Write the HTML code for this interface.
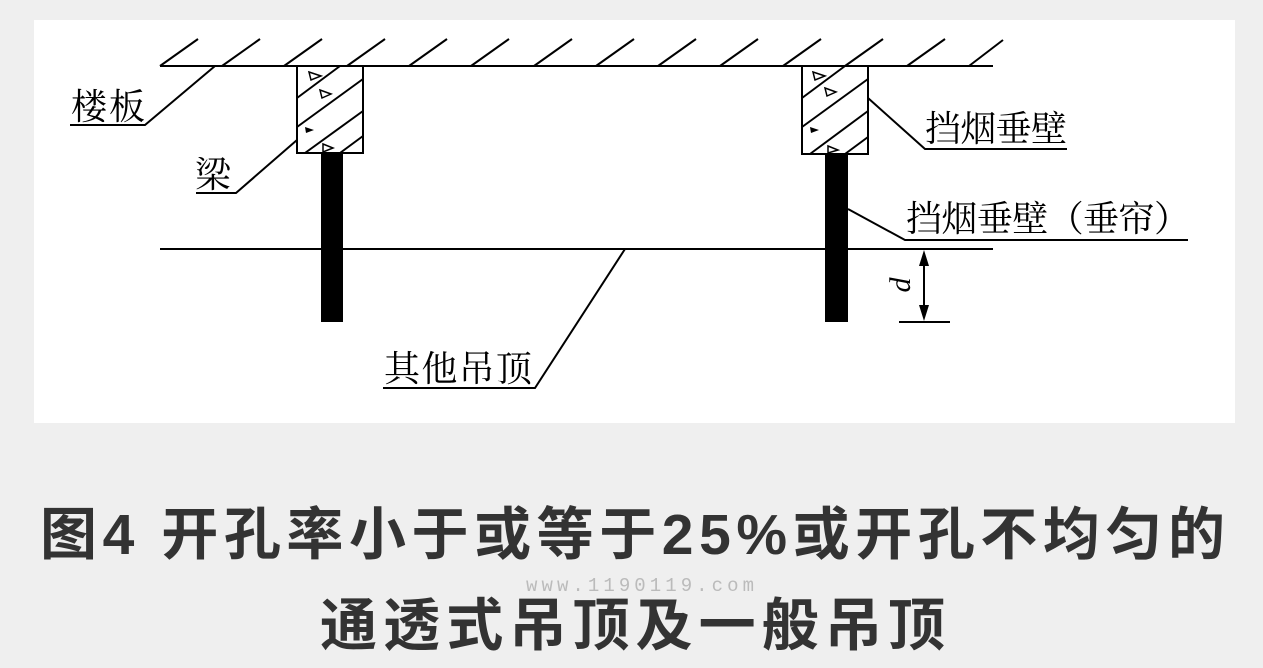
<!DOCTYPE html>
<html><head><meta charset="utf-8"><style>
html,body{margin:0;padding:0;background:#efefef;}
svg{display:block}
</style></head><body>
<svg width="1263" height="668" viewBox="0 0 1263 668" xmlns="http://www.w3.org/2000/svg">
<rect x="0" y="0" width="1263" height="668" fill="#efefef"/>
<rect x="34" y="20" width="1201" height="403" fill="#fff"/>
<g stroke="#000" stroke-width="2" fill="none">
<line x1="160" y1="66" x2="993" y2="66"/>
<g>
<line x1="160" y1="66" x2="198" y2="39"/>
<line x1="222" y1="66" x2="260" y2="39"/>
<line x1="284" y1="66" x2="322" y2="39"/>
<line x1="347" y1="66" x2="385" y2="39"/>
<line x1="409" y1="66" x2="447" y2="39"/>
<line x1="471" y1="66" x2="509" y2="39"/>
<line x1="534" y1="66" x2="572" y2="39"/>
<line x1="596" y1="66" x2="634" y2="39"/>
<line x1="658" y1="66" x2="696" y2="39"/>
<line x1="720" y1="66" x2="758" y2="39"/>
<line x1="783" y1="66" x2="821" y2="39"/>
<line x1="845" y1="66" x2="883" y2="39"/>
<line x1="907" y1="66" x2="945" y2="39"/>
<line x1="969" y1="66" x2="1003" y2="40"/>
</g>
<rect x="297" y="66" width="66" height="87"/>
<rect x="802" y="66" width="66" height="88"/>
<line x1="297" y1="98" x2="340" y2="66"/>
<line x1="297" y1="127" x2="363" y2="79"/>
<line x1="305" y1="153" x2="363" y2="111"/>
<line x1="340" y1="153" x2="363" y2="136"/>
<line x1="802" y1="98" x2="845" y2="66"/>
<line x1="802" y1="127" x2="868" y2="79"/>
<line x1="810" y1="154" x2="868" y2="111"/>
<line x1="845" y1="154" x2="868" y2="137"/>
<line x1="160" y1="249" x2="993" y2="249"/>
<line x1="899" y1="322" x2="950" y2="322"/>
<line x1="924" y1="254" x2="924" y2="317"/>
<polyline points="70,125 145,125 215,66"/>
<polyline points="196,193 236,193 297,140"/>
<polyline points="868,98 925,149 1067,149"/>
<polyline points="848,209 905,240 1188,240"/>
<polyline points="383,388 535,388 625,249"/>
</g>
<g fill="none" stroke="#000" stroke-width="1.5">
<path d="M309 72 L321 76 L311 80Z"/><path d="M320 90 L331 94 L322 98Z"/><path d="M813 72 L825 76 L815 80Z"/><path d="M825 88 L836 92 L827 96Z"/>
<path d="M323 144 L333 148 L323 152Z"/><path d="M828 146 L838 150 L828 153Z"/>
</g>
<path d="M305 127 L314 130 L306 133Z" fill="#000"/><path d="M810 127 L819 130 L811 133Z" fill="#000"/>
<rect x="321" y="153" width="22" height="169" fill="#000"/>
<rect x="825" y="154" width="23" height="168" fill="#000"/>
<path d="M924 250 L919 266 L929 266Z M924 321 L919 305 L929 305Z" fill="#000"/>
<text transform="translate(910,285) rotate(-90)" font-family="Liberation Serif, serif" font-style="italic" font-size="30" text-anchor="middle">d</text>
<g font-family="'Liberation Serif','Noto Serif CJK SC',serif" font-size="36" fill="#000">
<text x="71" y="119" textLength="74">楼板</text>
<text x="195" y="187">梁</text>
<text x="925" y="141" textLength="142">挡烟垂壁</text>
<text x="906" y="231" textLength="284">挡烟垂壁（垂帘）</text>
<text x="384" y="381" textLength="148">其他吊顶</text>
</g>
<text x="526" y="591" font-family="'Liberation Mono',monospace" font-size="19" fill="#bbb" textLength="228">www.1190119.com</text>
<g font-family="'Liberation Sans','Noto Sans CJK SC',sans-serif" font-weight="bold" font-size="57" fill="#333">
<text x="40" y="554" textLength="1185" lengthAdjust="spacing">图4 开孔率小于或等于25%或开孔不均匀的</text>
<text x="320" y="645" textLength="625" lengthAdjust="spacing">通透式吊顶及一般吊顶</text>
</g>
</svg>
</body></html>
